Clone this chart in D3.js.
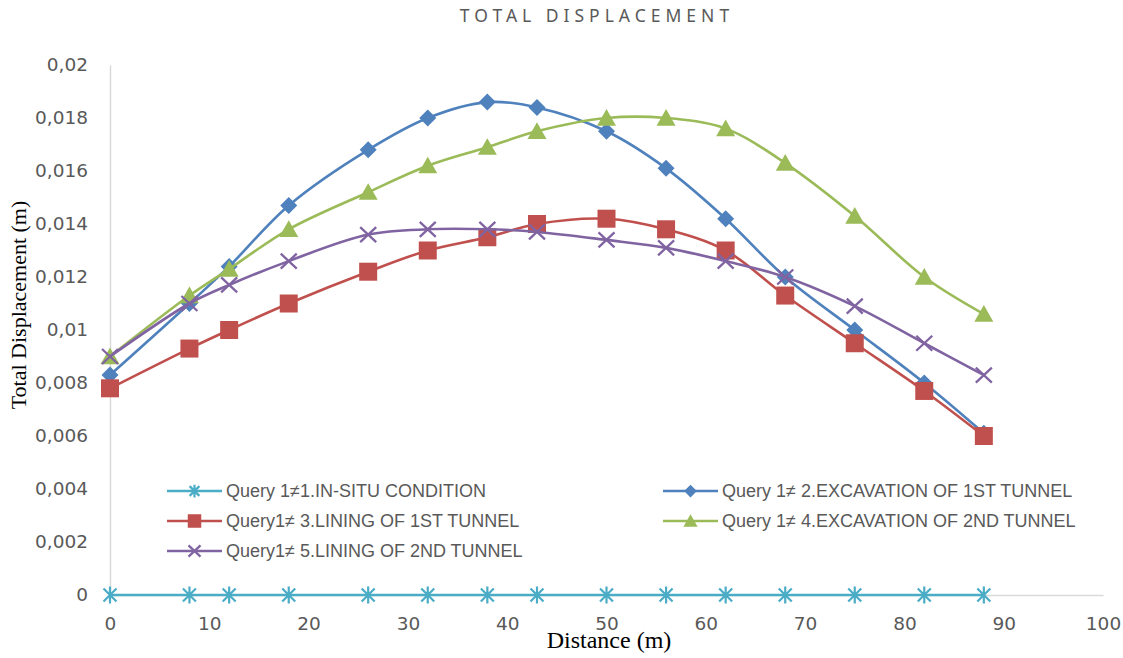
<!DOCTYPE html>
<html>
<head>
<meta charset="utf-8">
<script src="https://cdn.jsdelivr.net/npm/d3@7"></script>
<style>
  html, body { margin: 0; padding: 0; background: #fff; }
  svg { display: block; }
</style>
</head>
<body>
<svg id="chart" width="1123" height="658"></svg>
<script>
// Distance along the section (m)
const distances = [0, 8, 12, 18, 26, 32, 38, 43, 50, 56, 62, 68, 75, 82, 88];

// Total displacement (m) for each construction stage
const inSitu      = [0, 0, 0, 0, 0, 0, 0, 0, 0, 0, 0, 0, 0, 0, 0];
const excavation1 = [0.0083, 0.011, 0.0124, 0.0147, 0.0168, 0.018, 0.0186, 0.0184, 0.0175, 0.0161, 0.0142, 0.012, 0.010, 0.008, 0.0061];
const lining1     = [0.0078, 0.0093, 0.010, 0.011, 0.0122, 0.013, 0.0135, 0.014, 0.0142, 0.0138, 0.013, 0.0113, 0.0095, 0.0077, 0.006];
const excavation2 = [0.009, 0.0113, 0.0123, 0.0138, 0.0152, 0.0162, 0.0169, 0.0175, 0.018, 0.018, 0.0176, 0.0163, 0.0143, 0.012, 0.0106];
const lining2     = [0.009, 0.011, 0.0117, 0.0126, 0.0136, 0.0138, 0.0138, 0.0137, 0.0134, 0.0131, 0.0126, 0.012, 0.0109, 0.0095, 0.0083];

const seriesNames = [
  "Query 1\u22601.IN-SITU CONDITION",
  "Query 1\u2260 2.EXCAVATION OF 1ST TUNNEL",
  "Query1\u2260 3.LINING OF 1ST TUNNEL",
  "Query 1\u2260 4.EXCAVATION OF 2ND TUNNEL",
  "Query1\u2260 5.LINING OF 2ND TUNNEL"
];

const xTicks = [0, 10, 20, 30, 40, 50, 60, 70, 80, 90, 100];
const yTicks = [0, 0.002, 0.004, 0.006, 0.008, 0.01, 0.012, 0.014, 0.016, 0.018, 0.02];

const chartTitle = "TOTAL DISPLACEMENT";
const xTitle = "Distance (m)";
const yTitle = "Total Displacement (m)";

// ---- styling ----
const series = [
  { name: seriesNames[0], values: inSitu,      color: "#4BACC6", marker: "star" },
  { name: seriesNames[1], values: excavation1, color: "#4F81BD", marker: "diamond" },
  { name: seriesNames[2], values: lining1,     color: "#C0504D", marker: "square" },
  { name: seriesNames[3], values: excavation2, color: "#9BBB59", marker: "triangle" },
  { name: seriesNames[4], values: lining2,     color: "#8064A2", marker: "cross" }
];

const svg = d3.select("#chart");
const plot = { left: 110, right: 1103, top: 65, bottom: 595 };

const x = d3.scaleLinear().domain([0, 100]).range([plot.left, plot.right]);
const y = d3.scaleLinear().domain([0, 0.02]).range([plot.bottom, plot.top]);

const commaLocale = d3.formatLocale({ decimal: ",", thousands: ".", grouping: [3], currency: ["", ""] });
const fmt = commaLocale.format("~g");

const tickFont = "'DejaVu Sans', 'Noto Sans', sans-serif";
const textGrey = "#595959";

// y axis
const yAxis = svg.append("g")
  .attr("transform", `translate(${plot.left},0)`)
  .call(d3.axisLeft(y).tickValues(yTicks).tickFormat(fmt).tickSize(0).tickPadding(22));
yAxis.select(".domain").attr("stroke", "#d9d9d9").attr("stroke-width", 1.5);
yAxis.selectAll("text").attr("font-family", tickFont).attr("font-size", 18.5).attr("fill", textGrey);

// x axis
const xAxis = svg.append("g")
  .attr("transform", `translate(0,${plot.bottom})`)
  .call(d3.axisBottom(x).tickValues(xTicks).tickFormat(d => d).tickSize(0).tickPadding(22));
xAxis.select(".domain").attr("stroke", "#d9d9d9").attr("stroke-width", 1.5);
xAxis.selectAll("text").attr("font-family", tickFont).attr("font-size", 18.5).attr("fill", textGrey);

// marker shapes
function drawMarker(g, type, color, cx, cy, s) {
  s = s || 1;
  if (type === "diamond") {
    const r = 8.5 * s;
    g.append("path").attr("d", `M${cx},${cy - r}L${cx + r},${cy}L${cx},${cy + r}L${cx - r},${cy}Z`).attr("fill", color);
  } else if (type === "square") {
    const h = 9 * s;
    g.append("rect").attr("x", cx - h).attr("y", cy - h).attr("width", 2 * h).attr("height", 2 * h).attr("fill", color);
  } else if (type === "triangle") {
    const w = 9.5 * s, hh = 9 * s;
    g.append("path").attr("d", `M${cx},${cy - hh}L${cx + w},${cy + hh * 0.85}L${cx - w},${cy + hh * 0.85}Z`).attr("fill", color);
  } else if (type === "cross") {
    const r = 8 * s, v = 7.5 * s;
    g.append("path").attr("d", `M${cx - r},${cy - v}L${cx + r},${cy + v}M${cx + r},${cy - v}L${cx - r},${cy + v}`)
      .attr("stroke", color).attr("stroke-width", 2.3).attr("fill", "none");
  } else if (type === "star") {
    const r = 6.5 * s, v = 8.5 * s;
    g.append("path").attr("d", `M${cx - r},${cy - r}L${cx + r},${cy + r}M${cx + r},${cy - r}L${cx - r},${cy + r}M${cx},${cy - v}L${cx},${cy + v}`)
      .attr("stroke", color).attr("stroke-width", 2.2).attr("fill", "none");
  }
}

const line = d3.line()
  .x((d, i) => x(distances[i]))
  .y(d => y(d))
  .curve(d3.curveCatmullRom.alpha(0.5));

// series lines and markers
series.forEach(s => {
  const g = svg.append("g");
  g.append("path")
    .datum(s.values)
    .attr("d", line)
    .attr("fill", "none")
    .attr("stroke", s.color)
    .attr("stroke-width", 2.6);
  s.values.forEach((v, i) => drawMarker(g, s.marker, s.color, x(distances[i]), y(v)));
});

// legend
const legendFont = "'Liberation Sans Narrow', 'Arial Narrow', sans-serif";
const legendCols = [167, 663];
const legendRows = [491, 521, 551];
series.forEach((s, i) => {
  const lx = legendCols[i % 2];
  const ly = legendRows[Math.floor(i / 2)];
  const g = svg.append("g");
  g.append("line").attr("x1", lx).attr("x2", lx + 55).attr("y1", ly).attr("y2", ly)
    .attr("stroke", s.color).attr("stroke-width", 2.6);
  drawMarker(g, s.marker, s.color, lx + 27.5, ly, 0.75);
  g.append("text").attr("x", lx + 59).attr("y", ly).attr("dy", "0.36em")
    .attr("font-family", legendFont).attr("font-size", 18).attr("fill", textGrey)
    .text(s.name);
});

// titles
svg.append("text")
  .attr("x", 597).attr("y", 22)
  .attr("text-anchor", "middle")
  .attr("font-family", "'Noto Sans', 'Open Sans', sans-serif")
  .attr("font-size", 17.5).attr("letter-spacing", 5)
  .attr("fill", textGrey)
  .text(chartTitle);

svg.append("text")
  .attr("x", 609).attr("y", 648)
  .attr("text-anchor", "middle")
  .attr("font-family", "'Liberation Serif', 'DejaVu Serif', serif")
  .attr("font-size", 24).attr("fill", "#000")
  .text(xTitle);

svg.append("text")
  .attr("transform", "translate(26,305) rotate(-90)")
  .attr("text-anchor", "middle")
  .attr("font-family", "'Liberation Serif', 'DejaVu Serif', serif")
  .attr("font-size", 22).attr("fill", "#000")
  .text(yTitle);
</script>
</body>
</html>
